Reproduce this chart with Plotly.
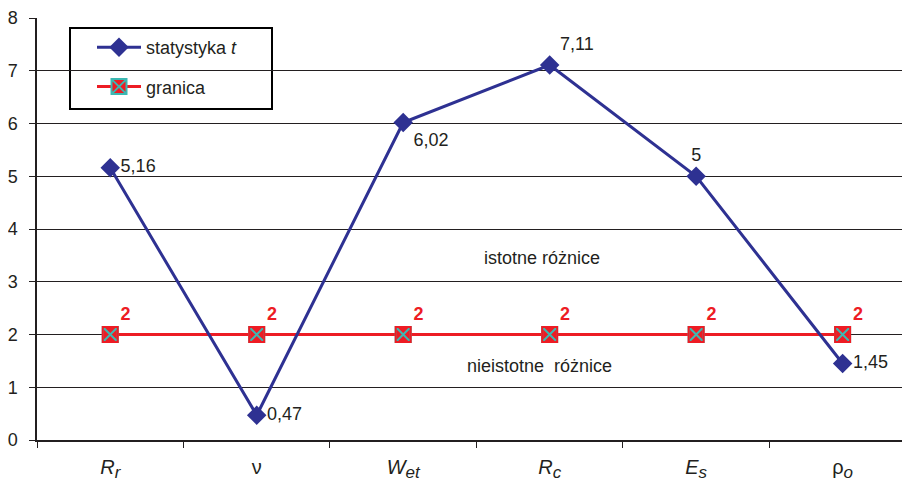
import plotly.graph_objects as go

def sub(s):
    return '<sub><span style="font-size:17px">' + s + '</span></sub>'

categories = ["<i>R" + sub("r") + "</i>", "ν", "<i>W" + sub("et") + "</i>",
              "<i>R" + sub("c") + "</i>", "<i>E" + sub("s") + "</i>", "ρ" + sub("<i>o</i>")]
t_values = [5.16, 0.47, 6.02, 7.11, 5.0, 1.45]
t_labels = ["5,16", "0,47", "6,02", "7,11", "5", "1,45"]
t_label_pos = ["middle right", "middle right", "bottom right", "top right", "top center", "middle right"]
limit_values = [2, 2, 2, 2, 2, 2]
limit_labels = ["<b>2</b>"] * 6
y_ticks = [0, 1, 2, 3, 4, 5, 6, 7, 8]

BLUE = "#2E3192"
RED = "#ED1C24"
TEAL = "#3CB8B2"
TXT = "#231F20"
FONT = "Liberation Sans, Arial, sans-serif"

fig = go.Figure()
fig.add_trace(go.Scatter(
    x=categories, y=limit_values, mode="lines+markers+text", name="granica",
    line=dict(color=RED, width=3),
    marker=dict(symbol="square-x", size=15, color=RED, line=dict(color=TEAL, width=2)),
    text=limit_labels, textposition="top right",
    textfont=dict(color=RED, size=18, family=FONT),
    legendrank=2, legendgroup="b",
))
fig.add_trace(go.Scatter(
    x=categories, y=limit_values, mode="markers", showlegend=False, hoverinfo="skip",
    marker=dict(symbol="square-open", size=15, color=RED, line=dict(color=RED, width=2)),
))
fig.add_trace(go.Scatter(
    x=categories, y=t_values, mode="lines+markers+text", name="statystyka <i>t</i>",
    line=dict(color=BLUE, width=3),
    marker=dict(symbol="diamond", size=15, color=BLUE),
    text=t_labels, textposition=t_label_pos,
    textfont=dict(color=TXT, size=18, family=FONT),
    legendrank=1, legendgroup="a",
))

fig.add_annotation(x=2.95, y=3.45, text="istotne różnice", showarrow=False,
                   font=dict(size=18, color=TXT, family=FONT))
fig.add_annotation(x=2.93, y=1.40, text="nieistotne  różnice", showarrow=False,
                   font=dict(size=18, color=TXT, family=FONT))

# legend frame (paper coords of plot area: 873 x 422 px)
fig.add_shape(type="rect", xref="paper", yref="paper",
              x0=(70 - 37) / 873, x1=(272 - 37) / 873,
              y0=(440 - 109) / 422, y1=(440 - 28) / 422,
              line=dict(color="black", width=2), fillcolor="white", layer="below")

# page body has an 8px default margin -> figure is 902x475 and offset by 8px
fig.update_layout(
    width=902, height=475,
    margin=dict(l=29, r=0, t=10, b=43),
    paper_bgcolor="white", plot_bgcolor="white",
    font=dict(family=FONT, color=TXT, size=18),
    legend=dict(x=(92 - 37) / 873, y=(440 - 29) / 422, xanchor="left", yanchor="top",
                bgcolor="rgba(0,0,0,0)", borderwidth=0, tracegroupgap=13,
                itemwidth=44,
                font=dict(size=18, color=TXT, family=FONT),
                traceorder="grouped"),
    showlegend=True,
)
fig.update_xaxes(
    type="category", categoryorder="array", categoryarray=categories,
    range=[-0.5, 5.46], showgrid=False, zeroline=False, automargin=False,
    showline=True, linecolor=TXT, linewidth=2,
    ticks="outside", tickson="boundaries", ticklen=6, tickcolor=TXT, tickwidth=1,
    tickfont=dict(size=20, color=TXT, family=FONT), ticklabelstandoff=8,
)
fig.update_yaxes(
    range=[0, 8.001], tickvals=y_ticks, showgrid=True, gridcolor=TXT, gridwidth=1.4,
    zeroline=False, showline=True, linecolor=TXT, linewidth=1.5, automargin=False,
    ticks="outside", ticklen=6, tickcolor=TXT,
    tickfont=dict(size=18, color=TXT, family=FONT), ticklabelstandoff=8,
)
fig.write_html("out.html")
